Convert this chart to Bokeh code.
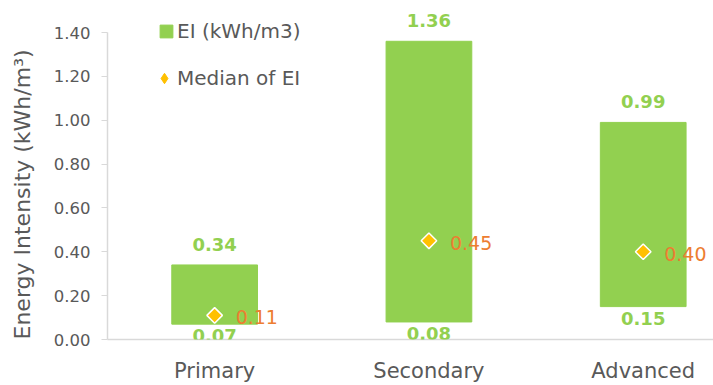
import math
from bokeh.plotting import figure
from bokeh.models import (ColumnDataSource, FixedTicker, NumeralTickFormatter,
                          LabelSet, Legend, LegendItem)
from bokeh.core.properties import value
from bokeh.embed import file_html
from bokeh.resources import INLINE

categories = ["Primary", "Secondary", "Advanced"]
ei_min = [0.07, 0.08, 0.15]
ei_max = [0.34, 1.36, 0.99]
ei_median = [0.11, 0.45, 0.40]
y_ticks = [0.0, 0.2, 0.4, 0.6, 0.8, 1.0, 1.2, 1.4]

FONT = "DejaVu Sans"
GREY = "#595959"
AXIS = "#d9d9d9"
GREEN = "#92d050"
ORANGE = "#ed7d31"
GOLD = "#ffc000"

xs = [i + 0.5 for i in range(len(categories))]
src = ColumnDataSource(dict(
    x=xs, lo=ei_min, hi=ei_max, med=ei_median,
    lo_t=[f"{v:.2f}" for v in ei_min],
    hi_t=[f"{v:.2f}" for v in ei_max],
    med_t=[f"{v:.2f}" for v in ei_median],
))

p = figure(width=713, height=385, output_backend="svg", toolbar_location=None,
           x_range=(0, 2.828), y_range=(0, 1.546),
           min_border_left=107, min_border_right=0, min_border_top=0, min_border_bottom=46)
p.outline_line_color = None
p.xgrid.visible = False
p.ygrid.visible = False

bars = p.vbar(x="x", bottom="lo", top="hi", width=0.4, color=GREEN, source=src)
p.scatter(x="x", y="med", marker="square", angle=math.pi / 4, size=11,
          fill_color=GOLD, line_color="white", line_width=1.5, source=src)
# legend swatch for the median (diamond shape), not drawn in the plot itself
med_key = p.scatter(x="x", y="med", marker="diamond", size=11, fill_color=GOLD,
                    line_color=GOLD, source=src, visible=False)

common = dict(source=src, text_font=value(FONT), level="overlay")
p.add_layout(LabelSet(x="x", y="hi", text="hi_t", text_font_size="18px",
                      text_font_style="bold", text_color=GREEN, text_align="center",
                      text_baseline="alphabetic", y_offset=14, **common))
p.add_layout(LabelSet(x="x", y="lo", text="lo_t", text_font_size="18px",
                      text_font_style="bold", text_color=GREEN, text_align="center",
                      text_baseline="alphabetic", y_offset=-18, **common))
p.add_layout(LabelSet(x="x", y="med", text="med_t", text_font_size="19px",
                      text_color=ORANGE, text_align="left", text_baseline="middle",
                      x_offset=21, y_offset=-2, **common))

# x axis
xa = p.xaxis[0]
xa.ticker = FixedTicker(ticks=xs)
xa.major_label_overrides = {x: c for x, c in zip(xs, categories)}
xa.axis_line_color = AXIS
xa.axis_line_width = 1.5
xa.major_tick_line_color = None
xa.minor_tick_line_color = None
xa.major_label_text_font = FONT
xa.major_label_text_font_size = "21px"
xa.major_label_text_color = GREY
xa.major_label_standoff = 13

# y axis
ya = p.yaxis[0]
ya.ticker = FixedTicker(ticks=y_ticks)
ya.formatter = NumeralTickFormatter(format="0.00")
ya.bounds = (0, 1.4)
ya.axis_line_color = AXIS
ya.axis_line_width = 1.5
ya.major_tick_line_color = AXIS
ya.major_tick_in = 0
ya.major_tick_out = 6
ya.minor_tick_line_color = None
ya.major_label_text_font = FONT
ya.major_label_text_font_size = "16.5px"
ya.major_label_text_color = GREY
ya.major_label_standoff = 11
ya.axis_label = "Energy Intensity (kWh/m\u00b3)" + "\u00a0" * 7
ya.axis_label_text_font = FONT
ya.axis_label_text_font_size = "22px"
ya.axis_label_text_font_style = "normal"
ya.axis_label_text_color = GREY
ya.axis_label_standoff = 16


def make_legend(item, loc, glyph, standoff):
    lg = Legend(items=[item], location=loc, margin=0, padding=0, spacing=0,
                glyph_width=glyph, glyph_height=glyph, label_standoff=standoff,
                label_height=20, label_text_font=FONT, label_text_font_size="20px",
                label_text_color=GREY, border_line_alpha=0, background_fill_alpha=0)
    p.add_layout(lg, "center")


make_legend(LegendItem(label="EI (kWh/m3)", renderers=[bars]), (51, 296), 16, 3)
make_legend(LegendItem(label="Median of EI", renderers=[med_key]), (44, 248), 26, 0)

open("out.html", "w").write(file_html(p, INLINE))
